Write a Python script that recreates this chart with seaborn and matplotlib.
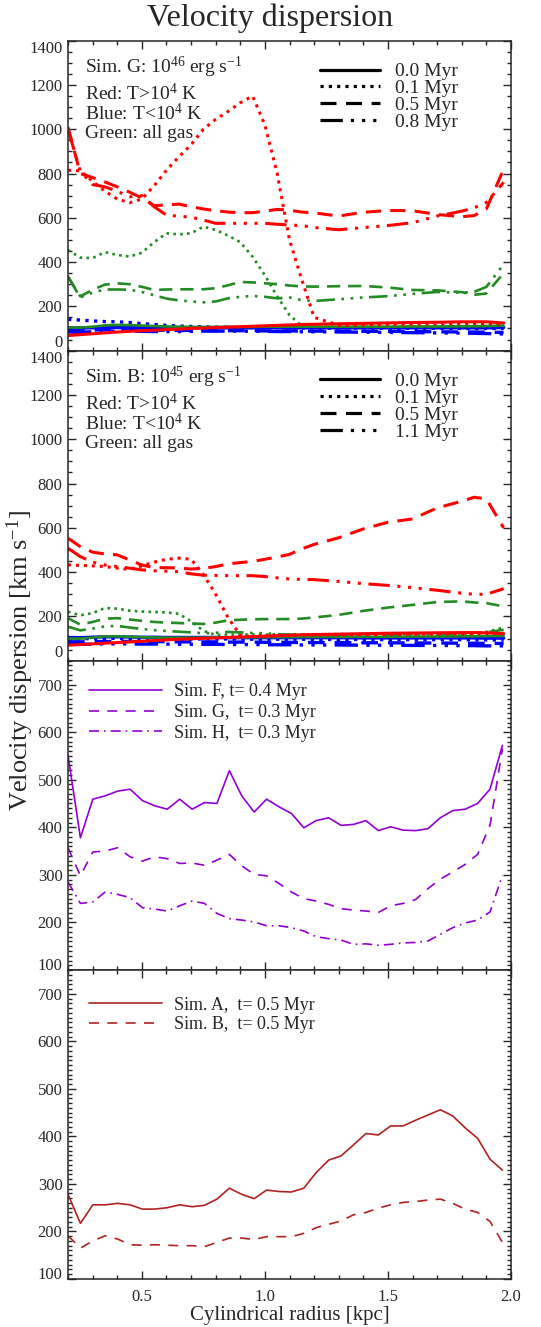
import numpy as np
import matplotlib
matplotlib.use("Agg")
import matplotlib.pyplot as plt
from matplotlib.lines import Line2D
from matplotlib.ticker import MultipleLocator, FixedLocator
import seaborn as sns

# radius grids [kpc]
r_top = [0.20, 0.25, 0.30, 0.35, 0.40, 0.45, 0.50, 0.55, 0.60, 0.65,
         0.70, 0.75, 0.80, 0.85, 0.90, 0.95, 1.00, 1.05, 1.10, 1.15,
         1.20, 1.30, 1.40, 1.50, 1.60, 1.70, 1.80, 1.85, 1.90, 1.97]
r_bot = np.linspace(0.2, 1.965, 36)

# panel 1: Sim. G, snapshots 0.0 / 0.1 / 0.5 / 0.8 Myr
g_red_00 = [68, 72, 76, 80, 84, 87, 90, 92, 95, 97, 100, 102, 104, 106, 108, 110, 112, 114, 116, 118,
            119, 121, 123, 125, 127, 128, 130, 130, 130, 125]
g_red_01 = [815, 812, 765, 720, 685, 668, 685, 745, 815, 875, 930, 1000, 1045, 1080, 1120, 1150, 1020, 800, 500, 320,
            150, 115, 117, 119, 120, 121, 122, 122, 122, 118]
g_red_05 = [1010, 800, 782, 762, 740, 716, 690, 655, 658, 662, 650, 640, 632, 626, 623, 623, 630, 638, 634, 626,
            622, 608, 625, 633, 632, 615, 605, 610, 640, 820]
g_red_08 = [1000, 810, 750, 740, 720, 695, 700, 650, 612, 607, 603, 590, 575, 575, 575, 575, 575, 571, 567, 565,
            556, 546, 556, 565, 578, 608, 630, 645, 670, 760]
g_grn_00 = [104, 104, 108, 114, 116, 115, 113, 111, 109, 108, 107, 107, 107, 107, 107, 107, 108, 108, 108, 108,
            108, 108, 108, 108, 109, 109, 110, 110, 111, 113]
g_grn_01 = [454, 420, 418, 445, 432, 425, 442, 490, 530, 525, 530, 560, 545, 520, 490, 424, 340, 245, 160, 112,
            108, 107, 107, 108, 108, 109, 110, 110, 111, 112]
g_grn_05 = [334, 245, 275, 298, 304, 300, 288, 274, 276, 277, 277, 277, 282, 295, 310, 308, 304, 300, 294, 290,
            289, 291, 292, 285, 274, 272, 264, 252, 258, 350]
g_grn_08 = [334, 240, 262, 276, 276, 275, 265, 250, 235, 227, 222, 218, 222, 236, 243, 247, 243, 236, 240, 228,
            224, 232, 240, 246, 256, 265, 262, 265, 288, 390]
g_blu_00 = [102, 102, 103, 104, 104, 104, 103, 103, 103, 103, 103, 103, 103, 103, 103, 103, 103, 103, 103, 103,
            103, 103, 103, 103, 103, 103, 103, 103, 103, 104]
g_blu_01 = [141, 138, 134, 131, 130, 127, 122, 118, 114, 111, 109, 107, 106, 105, 104, 104, 103, 103, 103, 102,
            102, 102, 102, 101, 101, 101, 100, 100, 100, 100]
g_blu_05 = [92, 92, 93, 94, 94, 93, 93, 92, 92, 91, 91, 91, 90, 90, 90, 90, 89, 89, 89, 88,
            88, 88, 87, 87, 86, 85, 84, 84, 83, 82]
g_blu_08 = [84, 83, 85, 87, 88, 88, 87, 86, 86, 86, 87, 88, 88, 88, 88, 87, 87, 86, 86, 85,
            85, 84, 83, 82, 81, 80, 79, 78, 77, 75]

# panel 2: Sim. B, snapshots 0.0 / 0.1 / 0.5 / 1.1 Myr
b_red_00 = [70, 73, 76, 79, 82, 85, 88, 91, 94, 97, 99, 101, 103, 105, 107, 109, 111, 113, 115, 117,
            118, 120, 122, 124, 125, 126, 127, 127, 126, 122]
b_red_01 = [433, 430, 428, 425, 418, 412, 428, 445, 458, 463, 458, 390, 300, 195, 115, 108, 110, 112, 114, 115,
            116, 117, 118, 119, 120, 121, 122, 122, 123, 124]
b_red_05 = [553, 515, 490, 482, 478, 455, 432, 420, 420, 418, 414, 417, 425, 437, 443, 448, 458, 468, 480, 505,
            525, 555, 595, 625, 640, 690, 720, 738, 730, 600]
b_red_11 = [508, 470, 445, 432, 425, 418, 410, 406, 404, 402, 392, 386, 385, 384, 384, 384, 380, 374, 369, 367,
            366, 358, 348, 340, 330, 318, 305, 300, 300, 325]
b_grn_00 = [100, 100, 104, 110, 110, 108, 106, 105, 104, 104, 104, 104, 105, 105, 105, 106, 106, 106, 107, 107,
            107, 108, 108, 108, 109, 109, 110, 110, 111, 112]
b_grn_01 = [221, 205, 215, 238, 235, 226, 222, 220, 218, 212, 178, 135, 116, 118, 118, 118, 118, 119, 119, 119,
            119, 120, 120, 120, 121, 121, 122, 124, 130, 150]
b_grn_05 = [192, 163, 175, 190, 192, 186, 180, 175, 172, 170, 168, 166, 172, 182, 185, 187, 188, 188, 188, 190,
            195, 207, 225, 240, 252, 265, 268, 263, 260, 245]
b_grn_11 = [154, 137, 145, 155, 157, 150, 143, 138, 134, 131, 128, 124, 126, 130, 128, 125, 124, 120, 118, 116,
            115, 114, 115, 116, 117, 118, 120, 122, 128, 140]
b_blu_00 = [105, 104, 106, 108, 108, 107, 106, 106, 105, 105, 105, 105, 105, 104, 104, 104, 104, 104, 104, 104,
            104, 104, 103, 103, 103, 103, 103, 103, 102, 102]
b_blu_01 = [100, 99, 100, 101, 101, 100, 100, 99, 99, 99, 98, 98, 98, 98, 97, 97, 97, 97, 97, 97,
            96, 96, 96, 95, 95, 95, 95, 94, 94, 93]
b_blu_05 = [86, 85, 86, 87, 87, 87, 86, 86, 86, 85, 85, 85, 85, 84, 84, 84, 83, 83, 83, 82,
            82, 82, 81, 81, 80, 80, 79, 79, 78, 78]
b_blu_11 = [75, 74, 75, 76, 76, 76, 75, 75, 75, 74, 74, 74, 74, 73, 73, 73, 72, 72, 72, 71,
            71, 71, 70, 70, 69, 69, 68, 68, 67, 67]

# panel 3: Sims F, G, H
sim_f = [551, 378, 459, 466, 476, 480, 456, 445, 438, 459, 438, 452, 450, 519, 466, 432, 459, 443, 429, 399,
         414, 420, 404, 406, 414, 393, 401, 394, 393, 397, 420, 435, 438, 450, 480, 572]
sim_g = [357, 298, 348, 350, 357, 338, 329, 338, 334, 324, 325, 320, 331, 343, 319, 301, 298, 282, 264, 250,
         245, 238, 229, 226, 224, 221, 235, 240, 248, 271, 291, 306, 322, 343, 404, 565]
sim_h = [285, 240, 243, 264, 259, 252, 231, 228, 224, 235, 245, 240, 219, 208, 205, 201, 193, 193, 189, 182,
         170, 166, 163, 154, 155, 152, 154, 157, 158, 161, 175, 189, 199, 205, 222, 299]

# panel 4: Sims A, B
sim_a = [278, 217, 256, 256, 259, 256, 247, 247, 250, 256, 252, 255, 268, 291, 278, 269, 287, 284, 283, 291,
         324, 350, 359, 382, 406, 403, 422, 422, 434, 445, 456, 443, 418, 396, 352, 329]
sim_b = [191, 165, 180, 191, 184, 172, 171, 172, 171, 170, 170, 168, 177, 186, 186, 183, 189, 189, 189, 196,
         208, 215, 222, 235, 240, 249, 256, 261, 263, 266, 268, 259, 247, 240, 221, 177]

top_labels_g = ["0.0 Myr", "0.1 Myr", "0.5 Myr", "0.8 Myr"]
top_labels_b = ["0.0 Myr", "0.1 Myr", "0.5 Myr", "1.1 Myr"]

sns.set_style("ticks")
plt.rcParams["font.family"] = ["Liberation Serif", "DejaVu Serif"]
plt.rcParams["mathtext.fontset"] = "custom"
plt.rcParams["mathtext.rm"] = "Liberation Serif"
plt.rcParams["mathtext.it"] = "Liberation Serif:italic"
plt.rcParams["axes.linewidth"] = 1.1

# IDL-like line styles
styles = ["-", (0, (1, 1.6)), (0, (5, 3)), (0, (7, 2.5, 1, 2.5, 1, 2.5, 1, 2.5))]

fig = plt.figure(figsize=(5.41, 13.27), dpi=100)
L, W = 0.1257, 0.8189
ax1 = fig.add_axes([L, 0.7358, W, 0.2335])
ax2 = fig.add_axes([L, 0.5021, W, 0.2337])
ax3 = fig.add_axes([L, 0.2690, W, 0.2331])
ax4 = fig.add_axes([L, 0.0362, W, 0.2328])


def draw(ax, x, y, color, lw, ls):
    sns.lineplot(x=x, y=y, ax=ax, color=color, lw=lw, linestyle=ls, sort=False, estimator=None)


# top two panels
for ax, reds, grns, blus in [
    (ax1, [g_red_00, g_red_01, g_red_05, g_red_08], [g_grn_00, g_grn_01, g_grn_05, g_grn_08],
     [g_blu_00, g_blu_01, g_blu_05, g_blu_08]),
    (ax2, [b_red_00, b_red_01, b_red_05, b_red_11], [b_grn_00, b_grn_01, b_grn_05, b_grn_11],
     [b_blu_00, b_blu_01, b_blu_05, b_blu_11]),
]:
    for vals, ls in zip(blus, styles):
        draw(ax, r_top, vals, "#0000ff", 2.4, ls)
    for vals, ls in zip(grns, styles):
        draw(ax, r_top, vals, "#228b22", 1.9, ls)
    for vals, ls in zip(reds, styles):
        draw(ax, r_top, vals, "#ff0000", 2.2, ls)
    ax.set_ylim(0, 1400)
    ax.yaxis.set_major_locator(MultipleLocator(200))
    ax.yaxis.set_minor_locator(MultipleLocator(50))

purple = "#9400d3"
draw(ax3, r_bot, sim_f, purple, 1.2, "-")
draw(ax3, r_bot, sim_g, purple, 1.2, (0, (6, 5)))
draw(ax3, r_bot, sim_h, purple, 1.2, (0, (6, 3, 1, 3)))

brown = "#b22222"
draw(ax4, r_bot, sim_a, brown, 1.2, "-")
draw(ax4, r_bot, sim_b, brown, 1.2, (0, (6, 5)))

for ax in (ax3, ax4):
    ax.set_ylim(100, 750)
    ax.yaxis.set_major_locator(FixedLocator([100, 200, 300, 400, 500, 600, 700]))
    ax.yaxis.set_minor_locator(MultipleLocator(10))

for ax in (ax1, ax2, ax3, ax4):
    ax.set_xlim(0.2, 2.0)
    ax.xaxis.set_major_locator(MultipleLocator(0.5))
    ax.xaxis.set_minor_locator(MultipleLocator(0.1))
    ax.tick_params(which="both", direction="in", top=True, right=True, width=1.0)
    ax.tick_params(which="major", length=6)
    ax.tick_params(which="minor", length=3)
    ax.tick_params(axis="y", labelsize=12, pad=4)
    ax.tick_params(axis="x", labelsize=12, pad=7)
    ax.set_xlabel("")
    ax.set_ylabel("")
    if ax is not ax4:
        ax.tick_params(labelbottom=False)

ax4.xaxis.set_major_formatter(plt.FuncFormatter(lambda v, p: f"{v:.1f}"))

# text blocks and legends in the top panels
for ax, head, labels in [(ax1, "Sim. G: 10$^{46}$ erg s$^{-1}$", top_labels_g),
                         (ax2, "Sim. B: 10$^{45}$ erg s$^{-1}$", top_labels_b)]:
    ax.text(0.038, 0.913, head, transform=ax.transAxes, fontsize=14, va="center")
    ax.text(0.038, 0.829, "Red: T>10$^{4}$ K", transform=ax.transAxes, fontsize=14, va="center")
    ax.text(0.038, 0.764, "Blue: T<10$^{4}$ K", transform=ax.transAxes, fontsize=14, va="center")
    ax.text(0.038, 0.701, "Green: all gas", transform=ax.transAxes, fontsize=14, va="center")
    handles = [Line2D([], [], color="k", lw=2.3, linestyle=s) for s in styles]
    ax.legend(handles, labels, loc="upper left", bbox_to_anchor=(0.569, 0.929), frameon=False,
              fontsize=14, handlelength=3.1, handletextpad=0.75, labelspacing=-0.04,
              borderpad=0, borderaxespad=0)

h3 = [Line2D([], [], color=purple, lw=1.2, linestyle=s) for s in ["-", (0, (6, 5)), (0, (6, 3, 1, 3))]]
ax3.legend(h3, ["Sim. F, t= 0.4 Myr", "Sim. G,  t= 0.3 Myr", "Sim. H,  t= 0.3 Myr"], loc="upper left",
           bbox_to_anchor=(0.047, 0.927), frameon=False, fontsize=13, handlelength=4.05,
           handletextpad=0.67, labelspacing=0.2, borderpad=0, borderaxespad=0)

h4 = [Line2D([], [], color=brown, lw=1.2, linestyle=s) for s in ["-", (0, (6, 5))]]
ax4.legend(h4, ["Sim. A,  t= 0.5 Myr", "Sim. B,  t= 0.5 Myr"], loc="upper left",
           bbox_to_anchor=(0.047, 0.914), frameon=False, fontsize=13, handlelength=4.05,
           handletextpad=0.67, labelspacing=0.15, borderpad=0, borderaxespad=0)

fig.text(0.5, 0.9864, "Velocity dispersion", ha="center", va="center", fontsize=23)
fig.text(0.037, 0.5026, "Velocity dispersion [km s$^{-1}$]", rotation=90, ha="center", va="center", fontsize=19)
fig.text(0.535, 0.0090, "Cylindrical radius [kpc]", ha="center", va="center", fontsize=15)

# keep the edge tick labels inside their own panel, as in the original
fig.canvas.draw()
for ax in (ax1, ax2, ax3, ax4):
    lo, hi = ax.get_ylim()
    for tick in ax.yaxis.get_major_ticks():
        if abs(tick.get_loc() - lo) < 1e-6:
            tick.label1.set_verticalalignment("bottom" if ax in (ax1, ax2) else "baseline")
        elif abs(tick.get_loc() - hi) < 1e-6:
            tick.label1.set_verticalalignment("top")

fig.savefig("out.png", dpi=100)
